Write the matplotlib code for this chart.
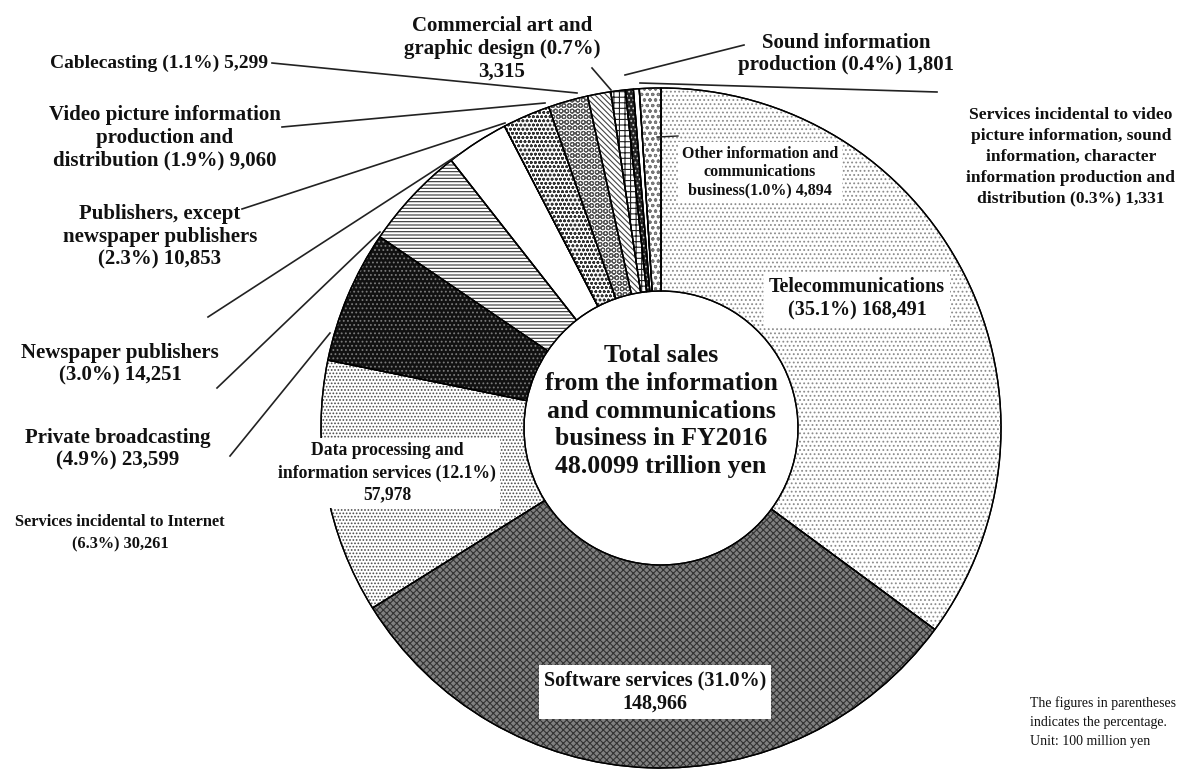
import matplotlib.pyplot as plt
from matplotlib.patches import Wedge

plt.rcParams['font.family'] = ['Liberation Serif', 'DejaVu Serif']
plt.rcParams['hatch.linewidth'] = 0.8

# Sales by industry, FY2016 (unit: 100 million yen), clockwise from the top
industries = [
    'Telecommunications',
    'Software services',
    'Data processing and information services',
    'Services incidental to Internet',
    'Private broadcasting',
    'Newspaper publishers',
    'Publishers, except newspaper publishers',
    'Video picture information production and distribution',
    'Cablecasting',
    'Commercial art and graphic design',
    'Sound information production',
    'Services incidental to video picture information, sound information, '
    'character information production and distribution',
    'Other information and communications business',
]
sales = [168491, 148966, 57978, 30261, 23599, 14251, 10853, 9060, 5299, 3315, 1801, 1331, 4894]
shares = [35.1, 31.0, 12.1, 6.3, 4.9, 3.0, 2.3, 1.9, 1.1, 0.7, 0.4, 0.3, 1.0]
total_trillion = 48.0099

# fill colour, hatch, hatch colour for every slice
styles = [
    ('white', '....', '#8c8c8c'),
    ('#808080', 'xxxxx', '#333333'),
    ('white', '.....', '#4a4a4a'),
    ('#111111', '....', '#7a7a7a'),
    ('white', '-----', '#333333'),
    ('white', '', 'black'),
    ('white', 'oooo', '#333333'),
    ('white', 'OOO', '#555555'),
    ('white', '\\\\\\\\\\\\', '#444444'),
    ('white', '+++', '#222222'),
    ('#222222', '....', '#cccccc'),
    ('white', '', 'black'),
    ('white', 'ooo', '#777777'),
]

cx, cy = 661, 428
r_out, r_in = 340, 137

fig = plt.figure(figsize=(11.85, 7.72), dpi=100)
ax = fig.add_axes([0, 0, 1, 1])

wedges, _ = ax.pie(sales, startangle=270, counterclock=True, center=(cx, cy),
                   radius=r_out, colors=[s[0] for s in styles],
                   wedgeprops=dict(width=r_out - r_in, edgecolor='black', linewidth=1.0))

# hatch layer and outline on top of each slice
for w, (fc, hatch, hc) in zip(wedges, styles):
    if hatch:
        ax.add_patch(Wedge(w.center, w.r, w.theta1, w.theta2, width=w.width,
                           facecolor='none', edgecolor=hc, linewidth=0, hatch=hatch, zorder=2))
    ax.add_patch(Wedge(w.center, w.r, w.theta1, w.theta2, width=w.width,
                       facecolor='none', edgecolor='black', linewidth=1.0, zorder=3))

ax.set_xlim(0, 1185)
ax.set_ylim(772, 0)
ax.set_aspect('auto')
ax.axis('off')

bold = dict(fontweight='bold', color='#111111')
box = dict(boxstyle='square,pad=0.25', facecolor='white', edgecolor='none')

# labels placed inside the ring
ax.text(857, 299, f'{industries[0]}\n({shares[0]}%) {sales[0]:,}', fontsize=14.5,
        ha='center', va='center', linespacing=1.25, bbox=box, zorder=5, **bold)
ax.text(655, 692, f'Software services ({shares[1]}%)\n{sales[1]:,}', fontsize=14.5,
        ha='center', va='center', linespacing=1.25, bbox=box, zorder=5, **bold)
ax.text(387, 473, f'Data processing and\ninformation services ({shares[2]}%)\n{sales[2]:,}',
        fontsize=12.7, ha='center', va='center', linespacing=1.37, bbox=box, zorder=5, **bold)
ax.text(760, 172, f'Other information and\ncommunications\nbusiness({shares[12]}%) {sales[12]:,}',
        fontsize=11.5, ha='center', va='center', linespacing=1.18, bbox=box, zorder=5, **bold)
ax.plot([657, 678], [137, 136], color='#222222', lw=1.0, zorder=6)

# centre of the ring
ax.text(cx, 411, 'Total sales\nfrom the information\nand communications\n'
        f'business in FY2016\n{total_trillion} trillion yen',
        fontsize=18.5, ha='center', va='center', linespacing=1.26, zorder=5, **bold)

# outside labels: text, position, alignment, size, line spacing, leader line (start, end)
outside = [
    (f'Cablecasting ({shares[8]}%) {sales[8]:,}', (268, 63), 'right', 14, 1.17,
     (272, 63), (577, 93)),
    (f'Commercial art and\ngraphic design ({shares[9]}%)\n{sales[9]:,}', (502, 49), 'center', 15,
     1.17, (592, 68), (611, 90)),
    (f'Sound information\nproduction ({shares[10]}%) {sales[10]:,}', (846, 54), 'center', 15, 1.17,
     (744, 45), (625, 75)),
    ('Services incidental to video\npicture information, sound\ninformation, character\n'
     f'information production and\ndistribution ({shares[11]}%) {sales[11]:,}', (1071, 157),
     'center', 12.6, 1.4, (937, 92), (640, 83)),
    (f'Video picture information\nproduction and\ndistribution ({shares[7]}%) {sales[7]:,}',
     (165, 138), 'center', 15, 1.17, (282, 127), (545, 103)),
    (f'Publishers, except\nnewspaper publishers\n({shares[6]}%) {sales[6]:,}', (160, 237),
     'center', 15, 1.17, (242, 209), (505, 123)),
    (f'Newspaper publishers\n({shares[5]}%) {sales[5]:,}', (120, 364), 'center', 15, 1.17,
     (208, 317), (458, 155)),
    (f'Private broadcasting\n({shares[4]}%) {sales[4]:,}', (118, 449), 'center', 15, 1.17,
     (217, 388), (380, 232)),
    (f'Services incidental to Internet\n({shares[3]}%) {sales[3]:,}', (120, 533), 'center', 11.8,
     1.5, (230, 456), (330, 333)),
]
for text, (tx, ty), ha, size, ls, p0, p1 in outside:
    ax.text(tx, ty, text, fontsize=size, ha=ha, va='center', linespacing=ls, zorder=5, **bold)
    ax.plot([p0[0], p1[0]], [p0[1], p1[1]], color='#222222', lw=1.2, zorder=4)

ax.text(1030, 722, 'The figures in parentheses\nindicates the percentage.\nUnit: 100 million yen',
        fontsize=10, ha='left', va='center', linespacing=1.6, color='#111111')

fig.savefig('out.png', dpi=100)
